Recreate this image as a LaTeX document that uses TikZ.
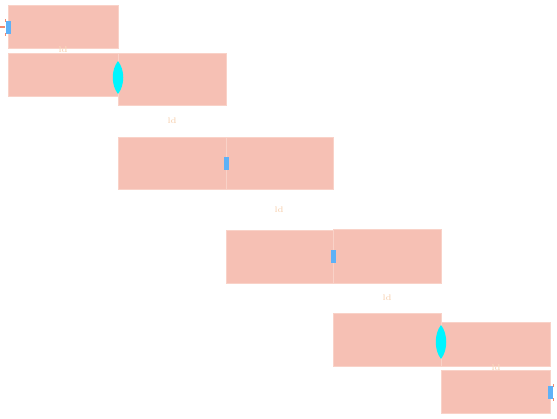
\documentclass[tikz,border=0pt]{standalone}
\usetikzlibrary{positioning}
\definecolor{boxfill}{HTML}{F6C0B4}
\definecolor{boxline}{HTML}{F9D2C8}
\definecolor{lensfill}{HTML}{00F5FF}
\definecolor{portfill}{HTML}{5EB1F7}
\definecolor{tagcol}{HTML}{F8D9BE}
\definecolor{tickcol}{HTML}{F08A70}
\newcommand{\lens}[3]{\fill[lensfill] (#1,#2) .. controls (#1+7,#2+9) and (#1+7,#3-9) .. (#1,#3) .. controls (#1-7,#3-9) and (#1-7,#2+9) .. (#1,#2);}

\begin{document}
\begin{tikzpicture}[x=0.03cm, y=-0.03cm, line width=0.5pt,
    tag/.style={font=\fontsize{7}{7}\selectfont\bfseries, text=tagcol, inner sep=0pt}]
  \useasboundingbox (0,0) rectangle (557,419);
  \foreach \xa/\ya/\xb/\yb in {8/5/118/48, 8/53/118/96, 118/53/226/105,
      118/137/226/189, 226/137/333/189, 226/230/333/283, 333/229/441/283,
      333/313/441/366, 441/322/550/366, 441/370/550/413}
    { \draw[boxline, fill=boxfill] (\xa,\ya) rectangle (\xb,\yb); }
  \lens{118}{61}{94}
  \lens{441}{325}{359}
  \foreach \x/\y in {8/21, 226/157, 333/250, 550/386}
    { \fill[portfill] (\x-2,\y) rectangle (\x+2.5,\y+13); }
  \draw[tickcol, line width=1pt] (0,27) -- (5,27);
  \draw[tickcol] (5,19) -- (5,22) (5,33) -- (5,36);
  \draw[tickcol] (553,384) -- (553,387) (553,398) -- (553,401);
  \node[tag] (t1) at (63,50) {ld};
  \node[tag] (t2) at (172,121) {ld};
  \node[tag] (t3) at (279,210) {ld};
  \node[tag] (t4) at (387,298) {ld};
  \node[tag] (t5) at (496,368) {ld};
\end{tikzpicture}
\end{document}
